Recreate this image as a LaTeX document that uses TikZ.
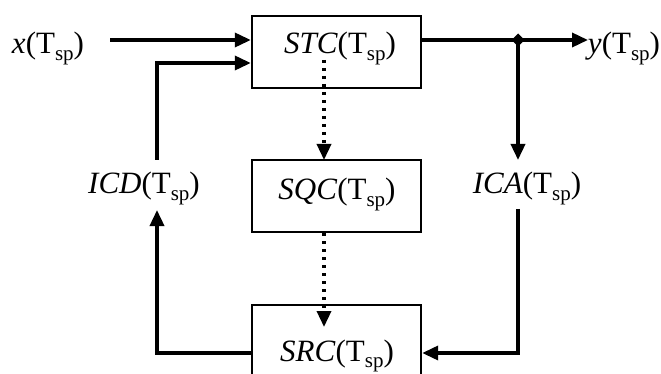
\documentclass[tikz,border=0pt]{standalone}
\usepackage{fontspec}
\setmainfont{Liberation Serif}
\usetikzlibrary{arrows.meta}
\newcommand\Tsp{(T\raisebox{-0.2em}{\fontsize{21}{21}\selectfont sp})}
\tikzset{
  lbl/.style={anchor=base, inner sep=0pt, font=\fontsize{31}{37}\selectfont},
  blk/.style={draw, line width=2.4pt, rectangle, inner sep=0pt, minimum width=169pt},
  conn/.style={line width=3.5pt, -{Triangle[length=16pt,width=14pt]}},
  plain/.style={line width=3.5pt},
  dotconn/.style={line width=3.4pt, dash pattern=on 3.4pt off 4.6pt, -{Triangle[length=16pt,width=14pt]}},
}
\begin{document}
\begin{tikzpicture}[x=1pt,y=-1pt]
\useasboundingbox (0,0) rectangle (661,374);
\clip (0,0) rectangle (661,374);
\fill[white] (0,0) rectangle (661,374);
% blocks
\node[blk, minimum height=72pt] (stc) at (336.5,52) {};
\node[blk, minimum height=72pt] (sqc) at (336.5,196) {};
\node[blk, minimum height=100pt] (src) at (336.5,355) {};
% texts
\node[lbl] (stct) at (340,54) {\textit{STC}\Tsp};
\node[lbl] (sqct) at (337,200) {\textit{SQC}\Tsp};
\node[lbl] (srct) at (337,361) {\textit{SRC}\Tsp};
\node[lbl] (xt) at (48,54) {\textit{x}\Tsp};
\node[lbl] (yt) at (624,54) {\textit{y}\Tsp};
\node[lbl] (icd) at (144,194) {\textit{ICD}\Tsp};
\node[lbl] (ica) at (527,194) {\textit{ICA}\Tsp};
% coordinates
\coordinate (xin) at (110,40);
\coordinate (fbin) at (252,63);
\coordinate (icdtop) at (157,160);
\coordinate (icdbot) at (157,210);
\coordinate (jn) at (518,40);
\coordinate (yend) at (588,40);
\coordinate (icatop) at (518,160);
\coordinate (icabot) at (518,209);
\coordinate (srcin) at (421,353);
\coordinate (srcout) at (253,353);
\coordinate (d1s) at (324,60);
\coordinate (d1e) at (324,160);
\coordinate (d2s) at (324,233);
\coordinate (d2e) at (324,327);
% connectors
\draw[conn] (xin) -- (xin -| stc.west);
\draw[conn] (icdtop) |- (fbin -| stc.west);
\draw[plain] (jn -| stc.east) -- (jn);
\draw[conn] (jn) -- (yend);
\draw[conn] (jn) -- (icatop);
\fill (jn) ++(-6.5,0) -- ++(6.5,-6.5) -- ++(6.5,6.5) -- ++(-6.5,6.5) -- cycle;
\draw[conn] (icabot) |- (srcin -| src.east);
\draw[conn, line join=miter] (srcout -| src.west) -| (icdbot);
\draw[dotconn] (d1s) -- (d1e -| d1s);
\draw[dotconn] (d2s) -- (d2e);
\end{tikzpicture}
\end{document}
